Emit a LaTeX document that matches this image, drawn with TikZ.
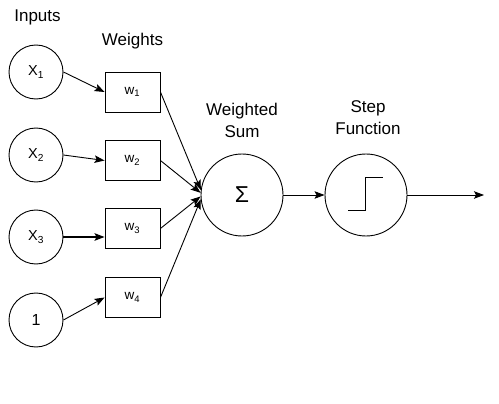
\documentclass[tikz,border=0pt]{standalone}
\usepackage{fontspec}
\setmainfont{Liberation Sans}
\usetikzlibrary{arrows.meta}
\begin{document}
\begin{tikzpicture}[x=1pt,y=-1pt,
  inp/.style={draw,circle,minimum size=54pt,inner sep=0pt,line width=0.9pt,font=\fontsize{14.5}{16}\selectfont},
  wbox/.style={draw,rectangle,minimum width=55pt,minimum height=40pt,inner sep=0pt,line width=0.9pt,font=\fontsize{13.5}{15}\selectfont},
  bigc/.style={draw,circle,minimum size=82pt,inner sep=0pt,line width=0.9pt},
  lbl/.style={font=\fontsize{17}{22}\selectfont,inner sep=0pt},
  arr/.style={line width=0.9pt,-{Stealth[length=10pt,width=7.5pt,inset=2pt]}}]
\useasboundingbox (0,0) rectangle (499,404);
\fill[white] (0,0) rectangle (499,404);
% labels
\node[lbl,anchor=base] (tin) at (37.5,22) {Inputs};
\node[lbl,anchor=base] (tw) at (132.5,46) {Weights};
\node[lbl,align=center] (tsum) at (242,120) {Weighted\\Sum};
\node[lbl,align=center] (tstep) at (368,118) {Step\\Function};
% inputs
\node[inp] (x1) at (36,72) {X\textsubscript{1}};
\node[inp] (x2) at (36,155) {X\textsubscript{2}};
\node[inp] (x3) at (36,237) {X\textsubscript{3}};
\node[inp,font=\fontsize{16}{18}\selectfont] (x4) at (36,320) {1};
% weights
\node[wbox] (w1) at (132.5,92) {w\textsubscript{1}};
\node[wbox] (w2) at (132.5,160.5) {w\textsubscript{2}};
\node[wbox] (w3) at (132.5,228.5) {w\textsubscript{3}};
\node[wbox] (w4) at (132.5,297.5) {w\textsubscript{4}};
% sum and step
\node[bigc,font=\fontsize{23}{26}\selectfont] (sum) at (242,195) {Σ};
\node[bigc] (step) at (366,195) {};
\coordinate (out) at (484,195);
\draw[line width=0.9pt] (348,210) -- (365,210) -- (365,177) -- (383,177);
% connectors
\draw[arr] (x1.east) -- (w1.west);
\draw[arr] (x2.east) -- (w2.west);
\draw[arr,line width=1.5pt] (x3.east) -- (x3.east -| w3.west);
\draw[arr] (x4.east) -- (w4.west);
\draw[arr] (w1.east) -- (sum.173);
\draw[arr] (w2.east) -- (sum.177);
\draw[arr] (w3.east) -- (sum.182);
\draw[arr] (w4.east) -- (sum.186);
\draw[arr] (sum.east) -- (step.west);
\draw[arr] (step.east) -- (out);
\end{tikzpicture}
\end{document}
